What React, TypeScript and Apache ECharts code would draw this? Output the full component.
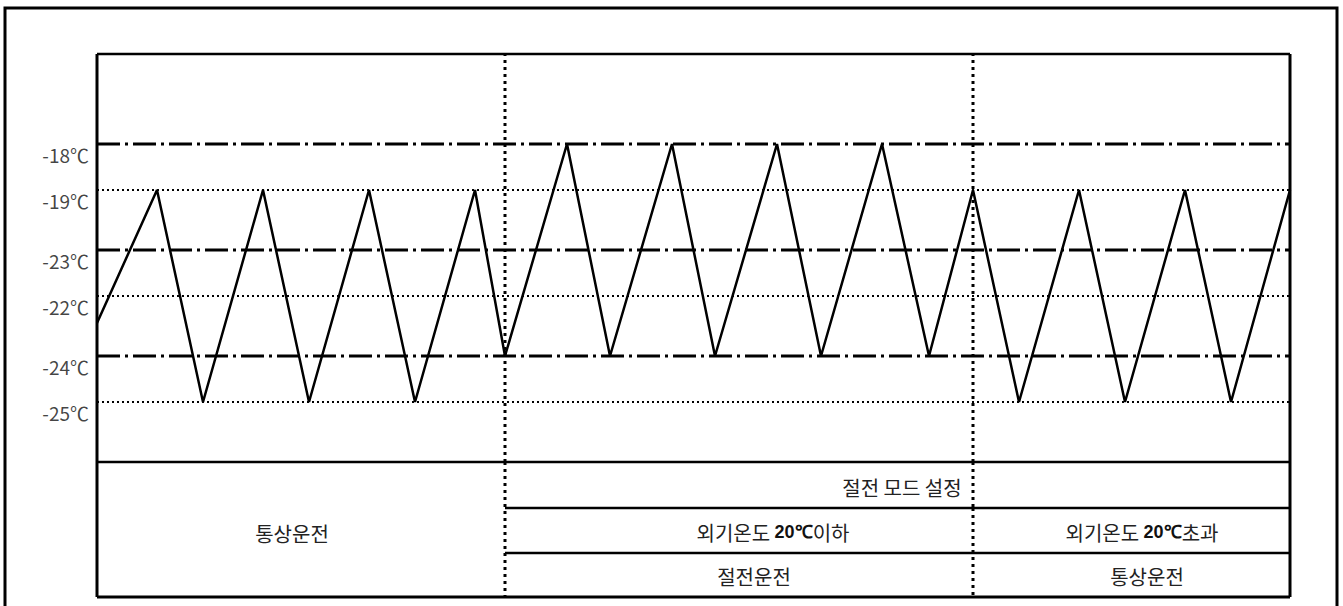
import React, { useEffect, useRef } from "react";
import * as echarts from "echarts";

// Waveform: time (arbitrary units) vs level (arbitrary units, mapped to reference lines)
const timePoints = [0, 60, 106, 166, 212, 272, 318, 378, 408, 470, 513, 575, 618, 680, 724, 785, 832, 876, 922, 982, 1028, 1088, 1134, 1193];
const waveLevels = [139, 272, 60, 272, 60, 272, 60, 272, 106, 318, 106, 318, 106, 318, 106, 318, 106, 272, 60, 272, 60, 272, 60, 272];

// Reference lines
const refLabels = ["-18℃", "-19℃", "-23℃", "-22℃", "-24℃", "-25℃"];
const refLevels = [318, 272, 212, 166, 106, 60];
const refKinds = ["dashdot", "dotted", "dashdot", "dotted", "dashdot", "dotted"];

// Section boundaries (time)
const sectionBounds = [408, 876];

// Table texts
const rowNormal = "통상운전";
const rowModeSet = "절전 모드 설정";
const rowBelow = ["외기온도 ", "20℃", "이하"];
const rowAbove = ["외기온도 ", "20℃", "초과"];
const rowSaving = "절전운전";
const rowNormal2 = "통상운전";

const X_MAX = 1193;
const Y_MAX = 408;
const GL = 97, GT = 54, GW = 1193, GH = 408;
const FONT = "'Noto Sans CJK KR', 'Noto Sans', sans-serif";

export default function App() {
  const ref = useRef<HTMLDivElement>(null);
  useEffect(() => {
    if (!ref.current) return;
    const chart = echarts.init(ref.current, null, { renderer: "svg" });
    const px = (t: number) => GL + (t / X_MAX) * GW;
    const tableTop = GT + GH;
    const row1 = 508, row2 = 553, tableBottom = 597;
    const b1 = px(sectionBounds[0]);
    const b2 = px(sectionBounds[1]);

    const refSeries = refLevels.map((lv, i) => ({
      type: "line",
      silent: true,
      symbol: "none",
      z: 1,
      lineStyle: {
        color: "#000",
        width: refKinds[i] === "dashdot" ? 3 : 2,
        type: refKinds[i] === "dashdot" ? [23, 5, 3, 5] : [2, 3],
      },
      data: [[0, lv], [X_MAX, lv]],
    }));

    const labelSeries = {
      type: "scatter",
      silent: true,
      symbolSize: 0,
      z: 4,
      label: {
        show: true,
        position: "left",
        distance: 8,
        offset: [0, 10],
        color: "#111",
        fontSize: 19,
        fontFamily: FONT,
        formatter: (p: any) => refLabels[p.dataIndex],
      },
      data: refLevels.map((lv) => [0, lv]),
    };

    const boundSeries = sectionBounds.map((t) => ({
      type: "line",
      silent: true,
      symbol: "none",
      z: 1,
      lineStyle: { color: "#000", width: 3, type: [3, 4] },
      data: [[t, 0], [t, Y_MAX]],
    }));

    const txt = (x: number, y: number, s: string) => ({
      type: "text",
      x,
      y,
      style: {
        text: s,
        fill: "#222",
        font: `20px ${FONT}`,
        align: "center",
        verticalAlign: "middle",
      },
    });
    const richTxt = (x: number, y: number, parts: string[]) => ({
      type: "text",
      x,
      y,
      style: {
        text: `{a|${parts[0]}}{b|${parts[1]}}{a|${parts[2]}}`,
        align: "center",
        verticalAlign: "middle",
        rich: {
          a: { fill: "#222", font: `20px ${FONT}` },
          b: { fill: "#111", font: `bold 18px 'Liberation Sans', Arial, sans-serif` },
        },
      },
    });
    const ln = (x1: number, y1: number, x2: number, y2: number, w = 2.5, dash?: number[]) => ({
      type: "line",
      shape: { x1, y1, x2, y2 },
      style: { stroke: "#000", lineWidth: w, lineDash: dash },
    });

    const option: any = {
      animation: false,
      backgroundColor: "#fff",
      grid: { left: GL, top: GT, width: GW, height: GH, show: false },
      xAxis: { type: "value", min: 0, max: X_MAX, show: false },
      yAxis: { type: "value", min: 0, max: Y_MAX, show: false },
      series: [
        ...refSeries,
        ...boundSeries,
        {
          type: "line",
          symbol: "none",
          z: 3,
          lineStyle: { color: "#000", width: 2.5 },
          data: timePoints.map((t, i) => [t, waveLevels[i]]),
        },
        labelSeries,
      ],
      graphic: [
        { type: "rect", shape: { x: 5, y: 8, width: 1332, height: 640 }, style: { fill: "none", stroke: "#000", lineWidth: 3 } },
        // inner box
        ln(GL, GT, GL + GW, GT, 2.5),
        ln(GL, GT, GL, tableBottom, 3),
        ln(GL + GW, GT, GL + GW, tableBottom, 3),
        ln(GL, tableTop, GL + GW, tableTop, 2.5),
        ln(GL, tableBottom, GL + GW, tableBottom, 3),
        ln(b1, row1, GL + GW, row1, 2.5),
        ln(b1, row2, GL + GW, row2, 2.5),
        ln(b1, tableTop, b1, tableBottom, 3, [3, 4]),
        ln(b2, row1, b2, tableBottom, 3, [3, 4]),
        ln(b2, tableTop, b2, row1, 3, [3, 4]),
        txt(292, 533, rowNormal),
        txt(902, 487, rowModeSet),
        richTxt(773, 532, rowBelow),
        richTxt(1142, 532, rowAbove),
        txt(754, 576, rowSaving),
        txt(1147, 576, rowNormal2),
      ],
    };
    chart.setOption(option);
    return () => chart.dispose();
  }, []);
  return (
    <div
      ref={ref}
      style={{ position: "fixed", left: 0, top: 0, width: 1343, height: 606, background: "#fff" }}
    />
  );
}
